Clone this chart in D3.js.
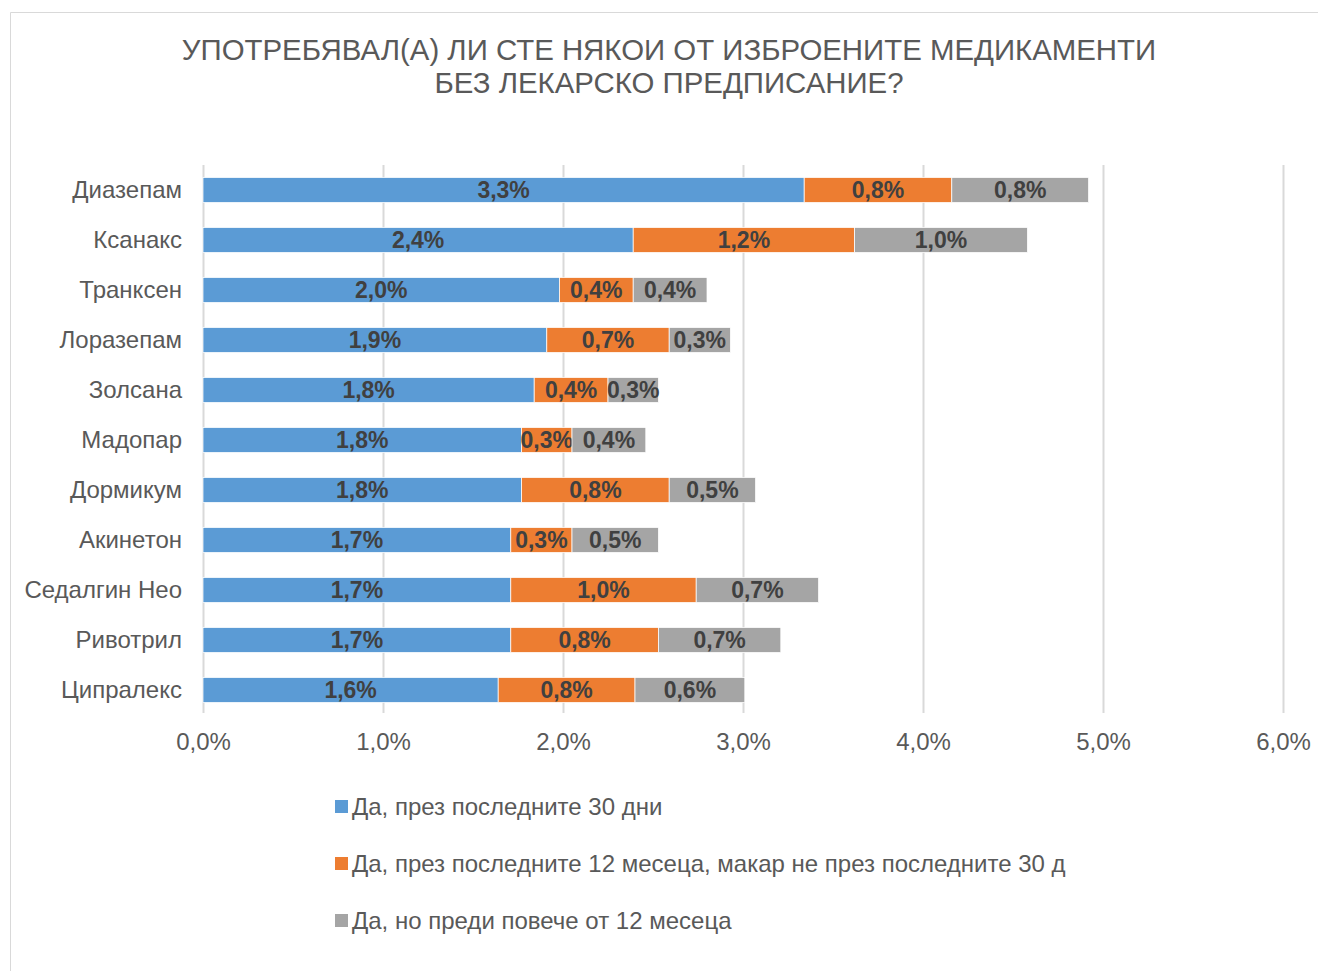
<!DOCTYPE html>
<html>
<head>
<meta charset="utf-8">
<script src="https://cdn.jsdelivr.net/npm/d3@7"></script>
<style>
  body { margin: 0; background: #fff; }
  svg { font-family: "Liberation Sans", Arial, sans-serif; }
</style>
</head>
<body>
<div id="chart"></div>
<script>
// Data (percent)
const categories = ['Диазепам', 'Ксанакс', 'Транксен', 'Лоразепам', 'Золсана', 'Мадопар',
    'Дормикум', 'Акинетон', 'Седалгин Нео', 'Ривотрил', 'Ципралекс'];
const last30 = [3.34, 2.39, 1.98, 1.91, 1.84, 1.77, 1.77, 1.71, 1.71, 1.71, 1.64];
const last12 = [0.82, 1.23, 0.41, 0.68, 0.41, 0.28, 0.82, 0.34, 1.03, 0.82, 0.76];
const older = [0.76, 0.96, 0.41, 0.34, 0.28, 0.41, 0.48, 0.48, 0.68, 0.68, 0.61];
const seriesNames = ['Да, през последните 30 дни',
    'Да, през последните 12 месеца, макар не през последните 30 д',
    'Да, но преди повече от 12 месеца'];
const xTicks = [0, 1, 2, 3, 4, 5, 6];
const titleLines = ['УПОТРЕБЯВАЛ(А) ЛИ СТЕ НЯКОИ ОТ ИЗБРОЕНИТЕ МЕДИКАМЕНТИ',
    'БЕЗ ЛЕКАРСКО ПРЕДПИСАНИЕ?'];

const colors = ['#5b9bd5', '#ed7d31', '#a5a5a5'];
const width = 1319, height = 971;
const plot = { left: 203, right: 1283, top: 165, bottom: 715 };

const svg = d3.select('#chart').append('svg')
    .attr('width', width)
    .attr('height', height);

// Chart area border (top and left visible)
svg.append('path')
    .attr('d', `M10.5,${height} V12.5 H${width - 1}`)
    .attr('fill', 'none')
    .attr('stroke', '#d9d9d9')
    .attr('stroke-width', 1);

// Title
svg.append('text')
    .attr('x', 669)
    .attr('y', 60)
    .attr('text-anchor', 'middle')
    .attr('fill', '#595959')
    .style('font-size', '29.4px')
    .selectAll('tspan')
    .data(titleLines)
    .enter()
    .append('tspan')
    .attr('x', 669)
    .attr('dy', (d, i) => i === 0 ? 0 : 33)
    .text(d => d);

// Scales
const x = d3.scaleLinear().domain([0, 6]).range([plot.left, plot.right]);
const y = d3.scaleBand().domain(categories).range([plot.top, plot.bottom]).paddingInner(0.5).paddingOuter(0.25);

// Gridlines
svg.append('g')
    .selectAll('line')
    .data(xTicks)
    .enter()
    .append('line')
    .attr('x1', d => Math.round(x(d)) + 0.5)
    .attr('x2', d => Math.round(x(d)) + 0.5)
    .attr('y1', plot.top)
    .attr('y2', plot.bottom - 2)
    .attr('stroke', '#d9d9d9')
    .attr('stroke-width', 2);

// X axis labels
const xAxis = d3.axisBottom(x)
    .tickValues(xTicks)
    .tickSize(0)
    .tickPadding(18)
    .tickFormat(d => d3.format('.1f')(d).replace('.', ',') + '%');

svg.append('g')
    .attr('transform', `translate(0,${plot.bottom})`)
    .call(xAxis)
    .call(g => g.select('.domain').remove())
    .selectAll('text')
    .attr('fill', '#595959')
    .style('font-size', '24px')
    .style('font-family', '"Liberation Sans", Arial, sans-serif');

// Y axis labels
const yAxis = d3.axisLeft(y).tickSize(0).tickPadding(21);
svg.append('g')
    .attr('transform', `translate(${plot.left},0)`)
    .call(yAxis)
    .call(g => g.select('.domain').remove())
    .selectAll('text')
    .attr('fill', '#595959')
    .style('font-size', '24px')
    .style('font-family', '"Liberation Sans", Arial, sans-serif');

// Stack
const rows = categories.map((c, i) => ({ cat: c, s0: last30[i], s1: last12[i], s2: older[i] }));
const stack = d3.stack().keys(['s0', 's1', 's2'])(rows);

const layers = svg.append('g')
    .selectAll('g')
    .data(stack)
    .enter()
    .append('g')
    .attr('fill', (d, i) => colors[i]);

layers.selectAll('rect')
    .data(d => d)
    .enter()
    .append('rect')
    .attr('x', d => x(d[0]))
    .attr('y', d => y(d.data.cat))
    .attr('width', d => x(d[1]) - x(d[0]))
    .attr('height', y.bandwidth())
    .attr('stroke', '#fff')
    .attr('stroke-width', 0.75);

// Data labels
layers.selectAll('text')
    .data(d => d)
    .enter()
    .append('text')
    .attr('x', d => (x(d[0]) + x(d[1])) / 2)
    .attr('y', d => y(d.data.cat) + y.bandwidth() / 2)
    .attr('dy', '0.36em')
    .attr('text-anchor', 'middle')
    .attr('fill', '#404040')
    .style('font-size', '23px')
    .style('font-weight', 'bold')
    .text(d => d3.format('.1f')(d[1] - d[0]).replace('.', ',') + '%');

// Legend
const legend = svg.append('g')
    .selectAll('g')
    .data(seriesNames)
    .enter()
    .append('g')
    .attr('transform', (d, i) => `translate(335,${807 + i * 57})`);

legend.append('rect')
    .attr('x', 0)
    .attr('y', -7)
    .attr('width', 13)
    .attr('height', 13)
    .attr('fill', (d, i) => colors[i]);

legend.append('text')
    .attr('x', 17)
    .attr('dy', '0.35em')
    .attr('fill', '#595959')
    .style('font-size', '24px')
    .text(d => d);
</script>
</body>
</html>
